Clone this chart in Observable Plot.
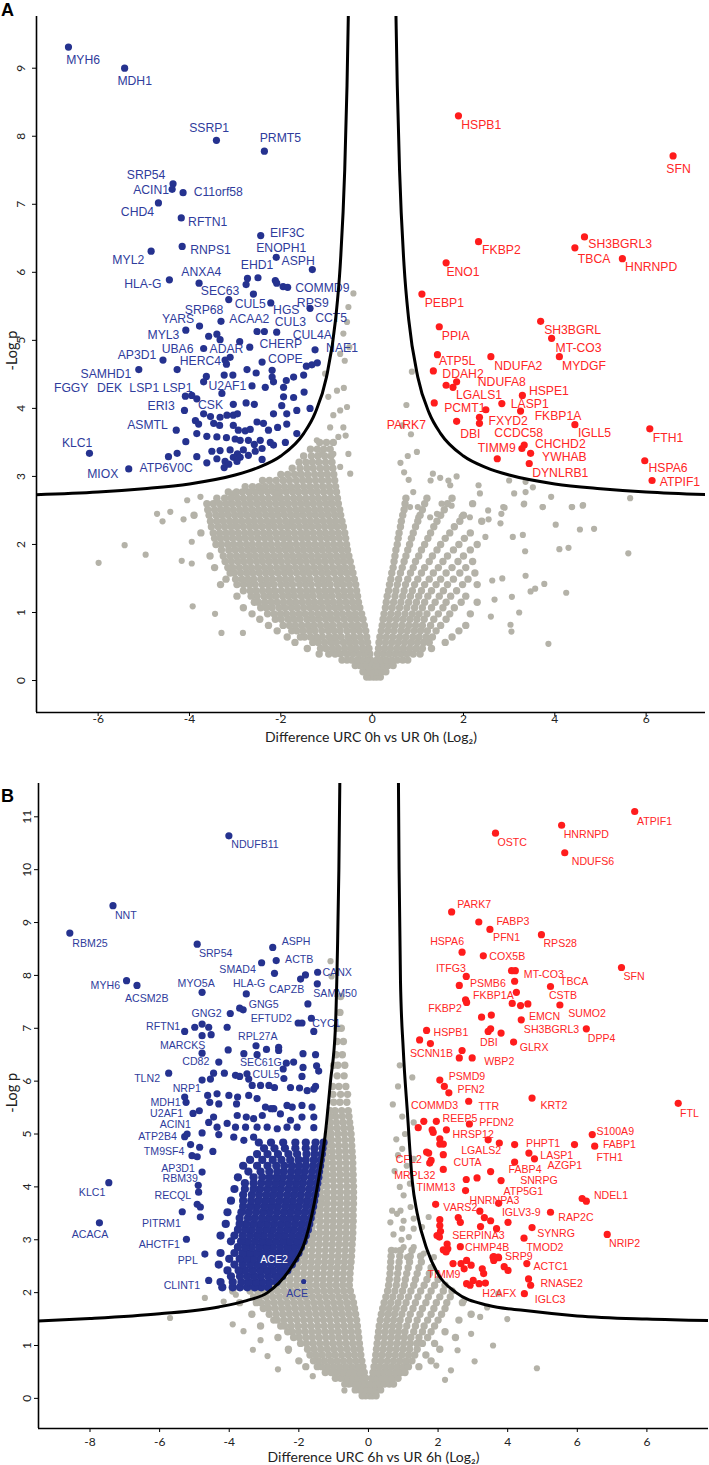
<!DOCTYPE html>
<html><head><meta charset="utf-8">
<script src="https://cdn.jsdelivr.net/npm/d3@7"></script>
<script src="https://cdn.jsdelivr.net/npm/@observablehq/plot@0.6"></script>
<style>body{margin:0;background:#fff}#chart{width:709px}#chart svg{display:block}</style>
</head><body><div id="chart"></div>
<script>
// ---------------- Panel A data ----------------
const xTicksA = [-6,-4,-2,0,2,4,6];
const xTickLabelsA = ["-6","-4","-2","0","2","4","6"];
const yTicksA = [0,1,2,3,4,5,6,7,8,9];
const curveA = [[0.5,10.6],[0.52,9.84],[0.55,8.75],[0.6,7.51],[0.7,6.09],[0.8,5.31],[1.0,4.46],[1.25,3.93],[1.5,3.63],[2.0,3.3],[2.5,3.13],[3.0,3.02],[4.0,2.89],[5.0,2.82],[6.0,2.77],[7.4,2.73]];
const blueA = [[-6.65,9.31],[-5.42,9.0],[-3.41,7.94],[-2.36,7.78],[-4.36,7.3],[-4.38,7.22],[-4.14,7.17],[-4.68,7.02],[-4.18,6.8],[-2.44,6.54],[-4.16,6.38],[-4.84,6.31],
[-2.1,6.22],[-1.31,6.04],[-4.44,5.89],[-3.79,5.84],[-2.73,5.91],[-2.5,5.92],[-2.76,5.82],[-2.12,5.88],[-2.09,5.84],[-1.95,5.79],[-1.85,5.78],[-2.6,5.68],[-3.14,5.6],[-2.22,5.55],[-1.36,5.47],[-3.31,5.28],[-3.78,5.21],[-4.08,5.15],[-3.58,5.06],[-3.4,5.09],[-3.33,5.01],[-2.9,4.98],[-2.52,5.13],[-2.36,5.13],[-2.09,5.12],[-2.68,4.9],[-3.69,4.88],[-3.11,4.75],[-3.22,4.71],[-3.19,4.65],[-1.25,4.86],[-4.58,4.71],[-5.11,4.57],[-4.27,4.57],[-2.74,4.57],[-2.54,4.52],[-2.41,4.68],[-2.19,4.56],[-2.19,4.46],[-1.44,4.62],[-1.32,4.64],[-1.2,4.67],[-1.5,4.49],[-3.63,4.47],[-3.69,4.39],[-3.24,4.49],[-3.05,4.49],[-2.63,4.33],[-2.34,4.31],[-2.16,4.39],[-1.88,4.41],[-1.72,4.46],[-1.94,4.31],[-3.29,4.22],[-4.09,4.18],[-3.95,4.19],[-3.84,4.14],[-2.76,4.08],[-2.58,4.06],[-3.04,4.06],[-1.94,4.17],[-1.72,4.16],[-1.49,4.24],[-1.98,4.04],[-2.16,3.92],[-1.87,3.92],[-1.65,3.97],[-1.36,4.0],[-4.11,3.97],[-3.87,3.82],[-3.69,3.92],[-3.54,3.88],[-3.33,3.87],[-3.18,3.9],[-3.04,3.9],[-2.95,3.92],[-3.8,3.77],[-3.47,3.78],[-3.34,3.75],[-3.04,3.75],[-2.93,3.68],[-2.78,3.67],[-2.67,3.69],[-2.52,3.8],[-2.38,3.78],[-2.27,3.68],[-2.07,3.72],[-1.87,3.77],[-4.29,3.68],[-4.08,3.51],[-3.84,3.63],[-3.62,3.59],[-3.4,3.58],[-3.19,3.57],[-3.0,3.55],[-2.89,3.53],[-2.71,3.53],[-2.58,3.47],[-2.45,3.53],[-2.23,3.5],[-1.9,3.5],[-1.65,3.63],[-3.51,3.37],[-3.33,3.38],[-3.11,3.39],[-2.95,3.33],[-2.82,3.39],[-2.56,3.37],[-2.41,3.41],[-2.16,3.46],[-4.46,3.29],[-4.27,3.34],[-3.84,3.29],[-3.4,3.26],[-3.22,3.22],[-3.04,3.28],[-2.89,3.28],[-2.71,3.31],[-2.41,3.25],[-3.62,3.2],[-3.24,3.13],[-3.14,3.18],[-2.96,3.22],[-6.19,3.34],[-5.33,3.11]];
const redA = [[1.89,8.3],[6.59,7.71],[2.33,6.45],[4.65,6.52],[4.44,6.36],[5.48,6.2],[1.62,6.14],[1.09,5.68],[3.69,5.28],[1.47,5.2],[3.93,5.03],[1.43,4.79],[2.6,4.76],[4.1,4.76],[1.34,4.55],[1.62,4.34],[1.77,4.31],[1.85,4.39],[3.29,4.19],[1.36,4.08],[2.84,4.07],[2.49,3.98],[3.25,3.96],[2.35,3.87],[2.35,3.78],[1.85,3.81],[4.44,3.76],[6.08,3.7],[3.33,3.46],[3.28,3.41],[3.47,3.34],[2.74,3.26],[3.44,3.19],[5.97,3.23],[6.13,2.94]];
// gray cloud, one row per -log p level: [y, x1, x2, ...]
const grayA_rows = [
[.05,.03,-.05,-.12,.1,.18],[.13,.06,-.03,-.11,-.2,.13,.21,.3],[.22,0,-.08,-.17,-.27,-.37,.08,.16,.25,.35,.46],
[.3,-.03,-.12,-.23,-.33,-.45,-.55,-.66,.1,.2,.31,.43,.55,.67,.78],
[.39,-.05,-.17,-.29,-.42,-.55,-.69,-.81,-.95,-1.16,.12,.24,.37,.5,.63,.76,.9,1.05],
[.47,-.07,-.2,-.34,-.46,-.6,-.74,-.87,-1.01,-1.13,-1.42,.14,.27,.4,.54,.68,.82,.96,1.1,1.3],
[.56,-.1,-.23,-.37,-.5,-.63,-.78,-.9,-1.04,-1.18,-1.3,-1.69,.15,.29,.43,.57,.71,.85,.99,1.13,1.25,1.6],
[.64,-.12,-.26,-.4,-.53,-.68,-.81,-.94,-1.09,-1.22,-1.35,-1.48,-1.57,-1.86,.17,.31,.45,.6,.74,.89,1.03,1.18,1.32,1.75],
[.73,-.14,-.28,-.41,-.55,-.7,-.83,-.96,-1.1,-1.25,-1.37,-1.51,-1.65,-1.76,-2.08,.2,.34,.48,.63,.77,.92,1.06,1.21,1.4,1.9],
[.81,-.17,-.31,-.44,-.58,-.71,-.86,-.99,-1.13,-1.27,-1.4,-1.54,-1.68,-1.81,-1.95,-2.27,.22,.36,.5,.65,.8,.95,1.1,1.28,1.5,2.05],
[.9,-.2,-.34,-.47,-.61,-.76,-.89,-1.02,-1.17,-1.3,-1.43,-1.58,-1.71,-1.84,-1.99,-2.12,-2.46,.24,.38,.53,.68,.83,.98,1.14,1.35,1.62],
[.98,-.23,-.37,-.51,-.65,-.78,-.92,-1.06,-1.19,-1.33,-1.47,-1.6,-1.74,-1.88,-2.01,-2.15,-2.29,-2.63,.26,.41,.56,.72,.88,1.03,1.2,1.45,1.7,2.15],
[1.07,-.27,-.4,-.54,-.69,-.81,-.95,-1.09,-1.23,-1.36,-1.5,-1.64,-1.77,-1.91,-2.04,-2.19,-2.32,-2.44,-2.82,.29,.44,.6,.76,.93,1.1,1.3,1.55,1.8],
[1.15,-.3,-.43,-.57,-.71,-.85,-.98,-1.12,-1.26,-1.39,-1.53,-1.67,-1.8,-1.94,-2.08,-2.21,-2.35,-2.49,-2.58,.31,.47,.63,.8,.97,1.15,1.38,1.62,1.95,2.3],
[1.24,-.32,-.46,-.6,-.73,-.88,-1.01,-1.14,-1.29,-1.42,-1.55,-1.7,-1.83,-1.96,-2.11,-2.24,-2.37,-2.52,-2.65,-2.96,.33,.5,.67,.84,1.02,1.22,1.47,1.72,2.05],
[1.32,-.34,-.48,-.62,-.76,-.9,-1.03,-1.17,-1.31,-1.44,-1.58,-1.72,-1.85,-1.99,-2.13,-2.26,-2.4,-2.54,-2.67,-2.82,.36,.52,.7,.88,1.08,1.3,1.56,1.85],
[1.41,-.36,-.5,-.64,-.77,-.92,-1.05,-1.18,-1.33,-1.46,-1.59,-1.74,-1.87,-2,-2.15,-2.28,-2.41,-2.56,-2.69,-2.82,-2.96,-3.32,.38,.55,.73,.93,1.15,1.4,1.65,1.98,2.3],
[1.49,-.39,-.53,-.67,-.8,-.95,-1.08,-1.21,-1.36,-1.49,-1.62,-1.77,-1.9,-2.03,-2.18,-2.31,-2.44,-2.59,-2.72,-2.85,-2.99,-3.2,.41,.58,.78,1,1.25,1.5,1.78,2.1],
[1.58,-.42,-.55,-.69,-.83,-.97,-1.1,-1.24,-1.38,-1.51,-1.65,-1.79,-1.92,-2.06,-2.2,-2.33,-2.47,-2.61,-2.74,-2.88,-3.02,-3.11,.43,.62,.84,1.08,1.34,1.62,1.92,2.25],
[1.66,-.45,-.59,-.72,-.86,-1,-1.13,-1.27,-1.41,-1.54,-1.68,-1.82,-1.95,-2.09,-2.23,-2.36,-2.5,-2.64,-2.77,-2.91,-3.05,-3.16,-3.45,.46,.66,.9,1.15,1.45,1.75,2.05],
[1.75,-.48,-.62,-.75,-.89,-1.03,-1.17,-1.3,-1.44,-1.58,-1.71,-1.85,-1.99,-2.12,-2.26,-2.4,-2.53,-2.67,-2.81,-2.94,-3.08,-3.22,.48,.7,.95,1.25,1.55,1.88,2.2],
[1.83,-.51,-.64,-.78,-.92,-1.05,-1.19,-1.33,-1.47,-1.6,-1.74,-1.87,-2.01,-2.15,-2.29,-2.42,-2.56,-2.69,-2.83,-2.97,-3.11,-3.26,-3.55,.5,.74,1.02,1.32,1.65,2],
[1.92,-.54,-.67,-.81,-.95,-1.09,-1.22,-1.36,-1.5,-1.63,-1.77,-1.9,-2.04,-2.18,-2.32,-2.45,-2.59,-2.72,-2.86,-3,-3.14,-3.3,.52,.78,1.08,1.42,1.78,2.15],
[2,-.56,-.7,-.84,-.98,-1.11,-1.25,-1.39,-1.52,-1.66,-1.8,-1.93,-2.07,-2.21,-2.34,-2.48,-2.62,-2.75,-2.89,-3.03,-3.16,-3.3,-3.42,.55,.82,1.15,1.5,1.9,2.3],
[2.09,-.58,-.72,-.86,-.99,-1.13,-1.27,-1.41,-1.54,-1.68,-1.82,-1.95,-2.09,-2.23,-2.36,-2.5,-2.64,-2.78,-2.91,-3.05,-3.19,-3.32,-3.45,.57,.86,1.22,1.6,2.02],
[2.17,-.6,-.74,-.88,-1.02,-1.15,-1.29,-1.43,-1.56,-1.7,-1.84,-1.97,-2.11,-2.25,-2.38,-2.52,-2.66,-2.79,-2.93,-3.07,-3.2,-3.34,-3.48,-3.75,.59,.9,1.28,1.7,2.15],
[2.26,-.63,-.77,-.9,-1.04,-1.18,-1.32,-1.45,-1.59,-1.73,-1.86,-2,-2.14,-2.27,-2.41,-2.55,-2.68,-2.82,-2.96,-3.09,-3.23,-3.37,-3.52,.62,.95,1.35,1.8],
[2.34,-.66,-.8,-.93,-1.07,-1.21,-1.35,-1.48,-1.62,-1.76,-1.89,-2.03,-2.17,-2.3,-2.44,-2.58,-2.71,-2.85,-2.99,-3.12,-3.26,-3.4,-3.54,.64,1,1.42,1.92,2.4],
[2.43,-.69,-.82,-.96,-1.1,-1.24,-1.37,-1.51,-1.65,-1.78,-1.92,-2.06,-2.19,-2.33,-2.47,-2.6,-2.74,-2.88,-3.01,-3.15,-3.29,-3.42,-3.57,-3.9,.67,1.05,1.5,2],
[2.51,-.71,-.85,-.99,-1.13,-1.26,-1.4,-1.54,-1.67,-1.81,-1.95,-2.08,-2.22,-2.36,-2.49,-2.63,-2.77,-2.9,-3.04,-3.18,-3.31,-3.45,-3.6,.7,1.1,1.58],
[2.6,-.74,-.88,-1.01,-1.15,-1.29,-1.43,-1.56,-1.7,-1.84,-1.97,-2.11,-2.25,-2.38,-2.52,-2.66,-2.79,-2.93,-3.07,-3.2,-3.34,-3.48,-3.62,.72,1.15,1.65,2.2],
[2.68,-.76,-.9,-1.04,-1.18,-1.31,-1.45,-1.59,-1.72,-1.86,-2,-2.13,-2.27,-2.41,-2.54,-2.68,-2.82,-2.95,-3.09,-3.23,-3.4,.74,1.2,1.75],
[2.77,-.78,-.92,-1.06,-1.2,-1.33,-1.47,-1.61,-1.74,-1.88,-2.02,-2.15,-2.29,-2.43,-2.56,-2.7,-2.84,-2.97,-3.15],
[2.85,-.8,-.94,-1.08,-1.22,-1.36,-1.5,-1.64,-1.78,-1.92,-2.06,-2.2,-2.34,-2.48,-2.62,-2.78],
[2.94,-.82,-.96,-1.1,-1.24,-1.38,-1.52,-1.66,-1.81,-1.95,-2.1,-2.25,-2.4],
[3.03,-.84,-.98,-1.12,-1.26,-1.41,-1.55,-1.7,-1.85,-2],
[3.12,-.86,-1,-1.14,-1.29,-1.43,-1.58,-1.75],[3.21,-.88,-1.02,-1.17,-1.31,-1.45,-1.6],[3.3,-.9,-1.04,-1.19,-1.33,-1.5],[3.4,-.92,-1.06,-1.2,-1.35],[3.5,-.85,-1,-1.15]];
const grayA_extra = [[-5.99,1.73],[-5.42,1.99],[-4.96,1.85],[-4.59,2.34],[-4.13,2.37],[-4.17,1.76],[-3.95,1.72],[-3.95,2.04],[-3.93,1.09],[-3.44,.98],[-3.3,.7],[-2.83,.7],[3.86,.54],[4.25,1.29],[5.61,1.87],[4.02,2.29],[4.1,1.93],[4.3,1.95],[4.38,2.55],[4.55,2.22],[4.86,2.23],[4.62,2.58],[3.74,2.55],[3.32,2.59],[3.35,1.9],[3.3,2.14],[3.08,2.11],[3.36,1.54],[3.47,1.31],[3.57,1.35],[3.77,1.42],[3.06,1.23],[3.03,.82],[3.05,.72],[3.22,1],[2.85,1.5],[2.63,1.47],[2.68,1.19],[2.6,.94],[2.83,2.45],[2.81,2.31],[2.9,2.54],[2.55,2.37],[2.48,2.11],
[.87,4.54],[.85,3.62],[.98,3.36],[.7,3.06],[.9,2.77],[1.28,2.94],[1.33,3.04],[1.49,2.98],[1.67,2.94],[1.71,2.87],[1.85,3],[1.52,2.6],[1.74,2.57],[1.96,2.41],[2.14,2.4],[2.33,2.87],[2.36,2.75],[2.54,2.5],[2.87,2.55],[3,2.94],[3.11,2.75],[3.33,2.6],[3.36,2.77],[3.36,2.92],[3.52,2.84],[3.73,2.55],[3.92,2.7],[4.37,2.55],[4.61,2.57],[5.65,2.68],[.83,2.55],[1,2.55],[1.01,2.4],[1.27,2.4],[1.42,2.45],[.62,3.2],[.78,3.3],[.66,3.75],[.75,4.05],[.8,2.95],
[-1.03,4.51],[-.96,4.17],[-.77,4.26],[-.85,3.9],[-.7,3.97],[-.92,3.72],[-.55,4.02],[-.63,3.72],[-.74,3.58],[-.52,3.33],[-.63,5.1],[-.55,5.27],[-.52,5.49],[-.41,5.69],[-1.21,3.53],[-1.1,3.33],[-.85,3.33],[-.99,3.04],[-.7,3.14],[-1.58,3.04],[-1.79,2.84],[-2.09,2.75],[-2.38,2.84],[-2.67,2.7],[-3.04,2.75],[-3.4,2.65],[-3.76,2.7],[-4.05,2.65],[-4.71,2.45],[-4.42,2.48],[-.48,3.04],[-.58,3.6],[-.62,4.3],[-.6,4.7],[-.7,4.8],[-.5,4.9]];
const labelsA_blue = [["MYH6",-6.33,9.12],["MDH1",-5.2,8.81],["SSRP1",-3.57,8.12],["PRMT5",-2.01,7.97],["SRP54",-4.95,7.43],["ACIN1",-4.84,7.21],["C11orf58",-3.37,7.18],["CHD4",-5.14,6.88],["RFTN1",-3.6,6.74],["EIF3C",-1.86,6.57],["ENOPH1",-1.99,6.35],["RNPS1",-3.54,6.32],["MYL2",-5.34,6.18],["ASPH",-1.62,6.17],["ANXA4",-3.74,6.0],["HLA-G",-5.02,5.83],["EHD1",-2.52,6.1],["SEC63",-3.33,5.72],["COMMD9",-1.09,5.77],["CUL5",-2.67,5.53],["RPS9",-1.3,5.55],["SRP68",-3.68,5.45],["HGS",-1.88,5.45],["CCT5",-.9,5.33],["YARS",-4.25,5.31],["ACAA2",-2.69,5.31],["CUL3",-1.79,5.27],["MYL3",-4.57,5.07],["CUL4A",-1.31,5.08],["AP3D1",-5.15,4.79],["UBA6",-4.26,4.87],["ADAR",-3.19,4.87],["CHERP",-2.0,4.95],["NAE1",-.66,4.89],["HERC4",-3.76,4.69],["COPE",-1.9,4.72],["SAMHD1",-5.83,4.5],["FGGY",-6.59,4.3],["DEK",-5.75,4.3],["LSP1",-4.99,4.3],["LSP1",-4.26,4.3],["U2AF1",-3.17,4.33],["ERI3",-4.62,4.03],["CSK",-3.54,4.05],["ASMTL",-4.92,3.76],["KLC1",-6.46,3.49],["MIOX",-5.9,3.03],["ATP6V0C",-4.51,3.12]];
const labelsA_red = [["HSPB1",2.39,8.16],["SFN",6.71,7.52],["FKBP2",2.83,6.32],["SH3BGRL3",5.43,6.42],["TBCA",4.86,6.2],["HNRNPD",6.11,6.07],["ENO1",1.99,6.0],["PEBP1",1.58,5.55],["SH3BGRL",4.39,5.15],["PPIA",1.83,5.06],["MT-CO3",4.52,4.89],["ATP5L",1.86,4.7],["NDUFA2",3.2,4.62],["MYDGF",4.64,4.62],["DDAH2",1.99,4.5],["NDUFA8",2.84,4.38],["HSPE1",3.87,4.26],["LGALS1",2.34,4.19],["PCMT1",2.03,4.0],["LASP1",3.45,4.07],["FKBP1A",4.07,3.89],["FXYD2",2.98,3.82],["PARK7",.75,3.75],["DBI",2.15,3.62],["IGLL5",4.87,3.64],["CCDC58",3.21,3.63],["FTH1",6.48,3.56],["CHCHD2",4.12,3.48],["TIMM9",2.73,3.42],["YWHAB",4.21,3.28],["DYNLRB1",4.12,3.05],["HSPA6",6.48,3.12],["ATPIF1",6.74,2.91]];

// ---------------- Panel B data ----------------
const xTicksB = [-8,-6,-4,-2,0,2,4,6,8];
const xTickLabelsB = ["-8","-6","-4","-2","0","2","4","6","6"];
const yTicksB = [0,1,2,3,4,5,6,7,8,9,10,11];
const curveB_left = [[0.82,11.8],[0.85,10],[0.89,8.5],[0.95,7],[1.09,6],[1.24,5],[1.47,4],[1.81,3],[2.2,2.5],[2.9,2],[3.5,1.85],[4.3,1.73],[6,1.6],[8,1.51],[9.6,1.46]];
const curveB_right = [[0.86,11.8],[0.88,10],[0.92,7.9],[1.0,6.6],[1.12,5.4],[1.26,4.1],[1.4,3.5],[1.69,2.8],[2.0,2.35],[2.52,2.0],[3.43,1.76],[4.5,1.66],[6,1.56],[8,1.5],[9.8,1.47]];
const blueB = [[-4.01,10.64],[-7.34,9.32],[-8.58,8.8],[-4.92,8.59],[-2.75,8.53],[-2.65,8.28],[-3.07,8.24],[-2.7,8.04],[-1.46,8.06],[-1.81,8.01],[-1.95,7.93],[-6.95,7.9],[-6.65,7.81],[-4.78,7.68],[-3.51,7.65],[-1.47,7.84],[-3.7,7.38],[-3.6,7.35],[-3.97,7.28],[-1.74,7.46],[-2.02,7.1],[-1.91,7.1],[-1.64,7.19],[-1.57,6.94],[-5.28,6.94],[-4.99,7.02],[-4.78,7.08],[-4.59,7.02],[-4.78,6.86],[-4.52,6.88],[-4.06,7.02],[-4.78,6.53],[-3.23,6.67],[-2.93,6.6],[-3.58,6.52],[-3.2,6.5],[-4.03,6.59],[-2.58,6.64],[-2.58,6.58],[-4.3,6.36],[-2.36,6.34],[-2.15,6.36],[-2.45,6.23],[-1.88,6.52],[-1.88,6.26],[-1.52,6.5],[-1.49,6.29],[-1.43,6.19],[-5.74,6.15],[-4.14,6.15],[-4.45,6.15],[-4.54,6.04],[-3.82,6.11],[-3.7,6.09],[-3.49,6.14],[-3.44,6.04],[-2.43,6.05],[-1.91,6.09],[-3.1,5.92],[-2.86,5.92],[-2.7,5.88],[-2.24,5.88],[-1.98,5.87],[-1.76,5.82],[-1.57,5.85],[-1.52,5.9],[-3.34,5.92],[-4.78,6.02],[-5.28,5.7],[-5.24,5.6],[-4.62,5.73],[-4.35,5.76],[-4.01,5.73],[-3.76,5.7],[-3.44,5.73],[-3.2,5.67],[-4.56,5.6],[-4.3,5.57],[-3.79,5.57],[-2.96,5.51],[-2.72,5.48],[-2.34,5.54],[-2.19,5.51],[-1.91,5.54],[-1.62,5.51],[-5.04,5.39],[-4.86,5.44],[-4.45,5.32],[-3.77,5.35],[-3.51,5.32],[-3.3,5.29],[-3.05,5.35],[-2.8,5.48],[-2.53,5.38],[-2.24,5.26],[-1.91,5.32],[-1.57,5.32],[-4.59,5.22],[-4.35,5.13],[-4.06,5.2],[-3.82,5.13],[-3.53,5.13],[-3.2,5.13],[-2.91,5.13],[-2.62,5.1],[-2.34,5.13],[-2.05,5.13],[-1.57,5.12],[-5.28,4.95],[-5.21,5.0],[-4.78,5.02],[-4.3,4.99],[-3.87,4.94],[-3.58,4.88],[-3.3,4.94],[-5.11,4.8],[-4.85,4.75],[-5.07,4.59],[-4.92,4.57],[-4.47,4.67],[-4.78,4.28],[-4.89,4.03],[-4.88,3.9],[-7.46,4.08],[-4.92,3.67],[-4.83,3.62],[-5.35,3.53],[-4.83,3.43],[-7.73,3.32],[-5.23,3.01],[-4.7,2.73],[-4.59,2.23]];
const blueB_small = [[-1.86,2.21]];
const blueB_rows = [
[2.1,-2.88,-3.08,-3.27,-3.48,-3.69,-3.9,-4.2],
[2.2,-2.64,-2.84,-3.05,-3.24,-3.44,-3.65,-3.9,-4.25],
[2.31,-2.48,-2.67,-2.88,-3.09,-3.28,-3.48,-3.69,-3.95],
[2.42,-2.33,-2.53,-2.74,-2.93,-3.12,-3.33,-3.54,-3.73,-4.05],
[2.53,-2.2,-2.41,-2.6,-2.8,-3.01,-3.2,-3.4,-3.61,-3.85,-4.3],
[2.64,-2.1,-2.3,-2.5,-2.71,-2.9,-3.1,-3.31,-3.5,-3.7,-4.0],
[2.75,-2.01,-2.21,-2.42,-2.61,-2.81,-3.02,-3.21,-3.41,-3.62,-3.85,-4.25],
[2.86,-1.94,-2.14,-2.33,-2.54,-2.75,-2.94,-3.14,-3.35,-3.54,-3.75],
[2.97,-1.86,-2.06,-2.27,-2.46,-2.66,-2.87,-3.06,-3.26,-3.47,-3.66,-3.95],
[3.08,-1.8,-2,-2.2,-2.41,-2.6,-2.8,-3.01,-3.2,-3.4,-3.61,-3.85,-4.25],
[3.19,-1.74,-1.94,-2.15,-2.34,-2.54,-2.75,-2.94,-3.14,-3.35,-3.54,-3.75],
[3.3,-1.7,-1.9,-2.1,-2.31,-2.5,-2.7,-2.91,-3.1,-3.3,-3.51,-3.7,-4.1],
[3.41,-1.66,-1.86,-2.07,-2.26,-2.46,-2.67,-2.86,-3.06,-3.27,-3.46,-3.7],
[3.52,-1.63,-1.83,-2.03,-2.24,-2.43,-2.63,-2.84,-3.03,-3.23,-3.44,-3.65,-4.05],
[3.63,-1.59,-1.79,-2,-2.19,-2.39,-2.6,-2.79,-2.99,-3.2,-3.39,-3.6],
[3.74,-1.56,-1.76,-1.96,-2.17,-2.36,-2.56,-2.77,-2.96,-3.16,-3.37,-3.6,-3.95],
[3.85,-1.53,-1.73,-1.94,-2.13,-2.33,-2.54,-2.73,-2.93,-3.14,-3.35,-3.6],
[3.96,-1.5,-1.7,-1.91,-2.1,-2.3,-2.51,-2.7,-2.9,-3.11,-3.3,-3.55,-3.85],
[4.07,-1.47,-1.67,-1.88,-2.07,-2.27,-2.48,-2.67,-2.87,-3.08,-3.3,-3.55],
[4.18,-1.44,-1.64,-1.85,-2.04,-2.24,-2.45,-2.64,-2.84,-3.05,-3.3,-3.75],
[4.29,-1.42,-1.62,-1.83,-2.02,-2.22,-2.43,-2.62,-2.85,-3.1,-3.45],
[4.4,-1.39,-1.59,-1.8,-2,-2.2,-2.42,-2.65,-2.9,-3.2,-3.6],
[4.51,-1.37,-1.57,-1.8,-2.01,-2.25,-2.5,-2.75,-3.05,-3.4],
[4.62,-1.34,-1.55,-1.78,-2.05,-2.3,-2.6,-2.9,-3.2],
[4.73,-1.32,-1.55,-1.8,-2.1,-2.4,-2.7,-3.0],
[4.84,-1.29,-1.52,-1.8,-2.1,-2.45,-2.8,-3.15]];
const redB = [[7.65,11.1],[5.55,10.84],[3.65,10.69],[5.64,10.32],[2.39,9.2],[3.17,9.01],[3.49,8.87],[4.97,8.77],[2.69,8.44],[3.3,8.37],[7.27,8.15],[2.81,7.98],[4.11,8.09],[4.22,8.09],[2.61,7.81],[4.2,7.89],[5.23,7.79],[4.25,7.68],[2.79,7.54],[2.82,7.49],[4.13,7.47],[4.37,7.43],[4.58,7.46],[5.5,7.44],[4.39,7.16],[3.25,7.21],[3.53,7.25],[6.26,6.99],[1.67,6.96],[3.44,6.94],[3.51,6.99],[3.81,6.91],[4.17,6.74],[1.47,6.78],[1.78,6.71],[2.69,6.58],[2.61,6.44],[2.98,6.44],[2.05,6.02],[2.18,5.9],[2.31,5.78],[4.7,5.68],[2.88,5.62],[8.9,5.58],[1.59,5.24],[1.95,5.24],[1.43,5.12],[1.83,5.08],[1.86,5.03],[2.24,5.08],[2.9,5.19],[6.43,4.99],[2.05,4.91],[2.05,4.81],[2.15,4.81],[3.44,4.89],[3.76,4.83],[4.2,4.8],[5.92,4.8],[6.5,4.77],[4.61,4.64],[4.77,4.53],[1.67,4.66],[1.73,4.64],[1.8,4.5],[1.76,4.45],[2.15,4.61],[4.2,4.47],[2.15,4.33],[3.51,4.29],[2.81,4.14],[3.12,4.17],[3.81,4.12],[2.79,3.93],[6.14,3.78],[6.26,3.73],[3.74,3.69],[1.93,3.67],[5.23,3.52],[3.2,3.54],[3.33,3.42],[3.51,3.36],[2.58,3.42],[2.64,3.33],[2.05,3.38],[2.05,3.27],[2.07,3.16],[1.97,3.08],[2.04,3.05],[3.22,3.25],[3.68,3.21],[4.01,3.33],[4.7,3.23],[4.47,3.03],[6.86,3.1],[2.64,2.87],[2.26,2.92],[2.28,2.83],[2.15,2.81],[3.58,2.67],[3.74,2.66],[2.23,2.77],[2.43,2.55],[2.66,2.55],[2.75,2.45],[2.95,2.52],[2.82,2.61],[3.27,2.45],[3.31,2.36],[3.6,2.68],[3.6,2.61],[3.73,2.67],[3.9,2.49],[4.01,2.42],[4.55,2.55],[4.6,2.26],[4.66,2.14],[2.82,2.17],[3.01,2.23],[3.18,2.17],[3.36,2.18],[2.92,2.14],[4.48,1.98]];
const grayB_rows = [
[.05,.04,-.08,-.18,.12,.22],[.16,0,-.12,-.25,-.38,.1,.22,.35],[.27,-.04,-.17,-.3,-.43,-.56,-.68,.08,.2,.33,.46,.6,.72],
[.38,-.08,-.22,-.36,-.51,-.65,-.8,-.95,.1,.24,.39,.54,.69,.85],
[.49,-.12,-.27,-.43,-.59,-.75,-.91,-1.07,-1.24,.13,.28,.44,.6,.77,.93,1.05],
[.6,-.16,-.32,-.49,-.66,-.83,-1,-1.17,-1.34,-1.47,-1.8,.16,.32,.49,.66,.83,1,1.15,1.45],
[.71,-.19,-.36,-.54,-.72,-.9,-1.08,-1.26,-1.43,-1.58,-2,.19,.36,.54,.72,.9,1.08,1.25,1.8],
[.82,-.22,-.4,-.58,-.77,-.96,-1.14,-1.33,-1.51,-1.68,.21,.39,.58,.77,.96,1.15,1.33,1.65],
[.93,-.24,-.42,-.61,-.8,-.99,-1.18,-1.37,-1.56,-1.75,-2.3,.23,.42,.61,.8,.99,1.18,1.4,2.05],
[1.04,-.26,-.45,-.64,-.83,-1.02,-1.21,-1.4,-1.59,-1.78,-1.95,.25,.44,.63,.82,1.01,1.2,1.39,1.55,1.9],
[1.15,-.28,-.47,-.66,-.85,-1.04,-1.23,-1.42,-1.61,-1.8,-1.99,-2.15,-2.6,.27,.46,.65,.84,1.03,1.22,1.45,1.7,2.5],
[1.26,-.3,-.49,-.68,-.87,-1.06,-1.25,-1.44,-1.63,-1.82,-2.01,-2.2,-2.32,.29,.48,.67,.86,1.05,1.3,1.55,1.8,2.2],
[1.37,-.32,-.51,-.7,-.89,-1.08,-1.27,-1.46,-1.65,-1.84,-2.03,-2.22,-2.41,-2.52,-3.1,.31,.5,.69,.88,1.1,1.35,1.6,1.9],
[1.48,-.34,-.53,-.72,-.91,-1.1,-1.29,-1.48,-1.67,-1.86,-2.05,-2.24,-2.43,-2.62,-2.72,.34,.53,.72,.91,1.15,1.4,1.7,2,2.6],
[1.59,-.37,-.56,-.75,-.94,-1.13,-1.32,-1.51,-1.7,-1.89,-2.08,-2.27,-2.46,-2.65,-2.85,-3.35,.37,.56,.75,.96,1.2,1.48,1.8,2.1,2.95],
[1.7,-.4,-.59,-.78,-.97,-1.16,-1.35,-1.54,-1.73,-1.92,-2.11,-2.3,-2.49,-2.68,-2.87,-3.02,.41,.6,.8,1.02,1.28,1.55,1.88,2.2],
[1.81,-.43,-.62,-.81,-1,-1.19,-1.38,-1.57,-1.76,-1.95,-2.14,-2.33,-2.52,-2.71,-2.9,-3.09,-3.22,-3.7,.45,.64,.85,1.08,1.35,1.65,1.95,2.25,2.7],
[1.92,-.47,-.66,-.85,-1.04,-1.23,-1.42,-1.61,-1.8,-1.99,-2.18,-2.37,-2.56,-2.75,-2.94,-3.13,-3.3,.5,.7,.92,1.15,1.42,1.72,2.05,2.35],
[2.03,-.52,-.71,-.9,-1.09,-1.28,-1.47,-1.66,-1.85,-2.04,-2.23,-2.42,-2.61,-2.8,-2.99,-3.18,-3.4,-3.9,.55,.76,.98,1.22,1.5,1.8,2.15,2.4],
[2.14,-.55,-.74,-.93,-1.12,-1.31,-1.5,-1.69,-1.88,-2.07,-2.26,-2.45,-2.64,-2.78,.58,.8,1.03,1.3,1.6,1.9,2.2],
[2.25,-.54,-.73,-.92,-1.11,-1.3,-1.49,-1.68,-1.87,-2.06,-2.25,-2.44,.6,.82,1.06,1.35,1.68,2],
[2.36,-.53,-.72,-.91,-1.1,-1.29,-1.48,-1.67,-1.86,-2.05,-2.24,.62,.84,1.1,1.4,1.75],
[2.47,-.52,-.71,-.9,-1.09,-1.28,-1.47,-1.66,-1.85,-2.04,-2.15,.63,.86,1.14,1.45,1.8],
[2.58,-.5,-.69,-.88,-1.07,-1.26,-1.45,-1.64,-1.83,-2.02,.64,.88,1.18,1.52],
[2.69,-.49,-.68,-.87,-1.06,-1.25,-1.44,-1.63,-1.82,-1.97,.65,.9,1.2,1.5],
[2.8,-.48,-.67,-.86,-1.05,-1.24,-1.43,-1.62,-1.81,-1.9,.66,.92,1.25],
[2.91,-.47,-.66,-.85,-1.04,-1.23,-1.42,-1.61,-1.8],[3.02,-.46,-.65,-.84,-1.03,-1.22,-1.41,-1.6,-1.75],
[3.13,-.45,-.64,-.83,-1.02,-1.21,-1.4,-1.58,-1.7],[3.24,-.45,-.64,-.83,-1.02,-1.21,-1.4,-1.62],
[3.35,-.44,-.63,-.82,-1.01,-1.2,-1.39,-1.58],[3.46,-.44,-.63,-.82,-1.01,-1.2,-1.39,-1.55],
[3.57,-.44,-.63,-.82,-1.01,-1.2,-1.38,-1.52],[3.68,-.43,-.62,-.81,-1,-1.19,-1.36,-1.5],
[3.79,-.43,-.62,-.81,-1,-1.19,-1.35,-1.47],[3.9,-.43,-.62,-.81,-1,-1.19,-1.38],
[4.01,-.43,-.62,-.81,-1,-1.19,-1.36],[4.12,-.44,-.63,-.82,-1.01,-1.2,-1.36],
[4.23,-.44,-.63,-.82,-1.01,-1.2,-1.34],[4.34,-.45,-.64,-.83,-1.02,-1.21,-1.33],
[4.45,-.45,-.64,-.83,-1.02,-1.2,-1.3],[4.56,-.46,-.65,-.84,-1.03,-1.2,-1.28],
[4.67,-.47,-.66,-.85,-1.04,-1.22],[4.78,-.48,-.67,-.86,-1.05,-1.22],[4.89,-.49,-.68,-.87,-1.06,-1.2],
[5,-.5,-.69,-.88,-1.07,-1.18],[5.11,-.52,-.71,-.9,-1.09],[5.22,-.54,-.73,-.92,-1.1],[5.33,-.56,-.75,-.94,-1.1],
[5.44,-.58,-.77,-.96,-1.1],[5.6,-.62,-.82,-1],[5.75,-.6,-.8,-1.02],[5.9,-.65,-.85,-1.03],[6.1,-.7,-.9],
[6.3,-.68,-.88,-1],[6.5,-.75,-.93],[6.75,-.72,-.9],[7,-.78,-.9],[7.3,-.82],[7.6,-.8]];
const grayB_extra = [[-1.09,8.27],[-1.06,7.98],[-5.7,1.52],[-3.59,1.27],[-3.32,.92],[-4.16,1.83],[-3.81,1.96],[-1.6,.42],[-.69,.15],[-4.7,1.9],[-3.9,1.4],[-2.9,.8],[-2.6,.55],[-2.3,.9],[-3.1,1.1],
[.7,5.56],[.97,5.33],[1.3,5.22],[.97,4.72],[1.3,4.53],[1.19,4.06],[1.01,3.84],[.68,3.55],[.92,3.55],[1.21,3.62],[.82,3.49],[.63,3.33],[1.01,3.36],[1.3,3.4],[1.73,3.43],[1.54,3.24],[.97,3.21],[1.3,3.21],[1.16,3.05],[.78,2.8],[1.01,2.86],[1.3,2.86],[1.59,2.74],[1.88,2.67],[1.11,2.67],[1.26,6.07],[.75,4.3],[.8,4.9],[.9,6.3],[.85,5.9],[.72,3.1],[.9,4],[1.1,4.4],[.95,3],[.85,4.6],[1.05,5],
[3.58,1],[3.99,1.5],[4.84,.57],[2.56,.91],[2.37,.53],[2.95,1.22],[3.21,1.54],[3.41,1.72],[3.73,1.98],[2.75,1.85],[3.05,.7],[2.2,.35],[1.95,.62]];
const labelsB_blue = [["NDUFB11",-3.26,10.47],["NNT",-6.97,9.14],["RBM25",-8.0,8.61],["SRP54",-4.39,8.42],["ASPH",-2.08,8.64],["ACTB",-1.99,8.3],["SMAD4",-3.76,8.11],["CANX",-.9,8.05],["MYH6",-7.56,7.81],["ACSM2B",-6.37,7.56],["MYO5A",-4.95,7.84],["HLA-G",-3.43,7.84],["CAPZB",-2.35,7.74],["SAMM50",-.96,7.65],["GNG5",-3.01,7.44],["GNG2",-4.65,7.27],["EFTUD2",-2.79,7.19],["CYC1",-1.21,7.08],["RFTN1",-5.9,7.03],["MARCKS",-5.34,6.67],["RPL27A",-3.18,6.84],["CD82",-4.96,6.37],["SEC61G",-3.09,6.36],["CUL5",-2.94,6.12],["TLN2",-6.36,6.04],["NRP1",-5.22,5.85],["MDH1",-5.83,5.6],["U2AF1",-5.8,5.38],["ACIN1",-5.55,5.17],["ATP2B4",-6.06,4.96],["TM9SF4",-5.87,4.66],["AP3D1",-5.47,4.34],["RBM39",-5.41,4.16],["KLC1",-7.94,3.89],["RECQL",-5.62,3.84],["PITRM1",-5.95,3.3],["ACACA",-8.0,3.1],["AHCTF1",-6.01,2.91],["PPL",-5.19,2.61],["CLINT1",-5.36,2.14],["ACE",-2.05,1.99]];
const labelsB_white = [["ACE2",-2.71,2.63]];
const labelsB_red = [["ATPIF1",8.22,10.91],["HNRNPD",6.26,10.66],["OSTC",4.13,10.52],["NDUFS6",6.45,10.15],["PARK7",3.04,9.34],["FABP3",4.15,9.02],["PFN1",3.97,8.72],["RPS28",5.51,8.61],["HSPA6",2.26,8.64],["COX5B",3.99,8.36],["SFN",7.63,7.98],["ITFG3",2.37,8.13],["MT-CO3",5.04,8.01],["PSMB6",3.43,7.84],["TBCA",5.91,7.89],["CSTB",5.59,7.62],["FKBP1A",3.59,7.62],["FKBP2",2.2,7.38],["SUMO2",6.28,7.28],["EMCN",5.06,7.22],["SH3BGRL3",5.26,6.98],["DPP4",6.7,6.8],["HSPB1",2.37,6.91],["DBI",3.46,6.72],["GLRX",4.76,6.64],["SCNN1B",1.81,6.52],["WBP2",3.76,6.37],["PSMD9",2.83,6.09],["PFN2",2.95,5.84],["KRT2",5.33,5.53],["TTR",3.46,5.52],["FTL",9.22,5.39],["COMMD3",1.9,5.53],["REEP5",2.63,5.29],["PFDN2",3.68,5.21],["HRSP12",3.01,4.98],["S100A9",7.09,5.05],["PHPT1",5.02,4.82],["FABP1",7.21,4.8],["FTH1",6.93,4.56],["LGALS2",3.24,4.68],["LASP1",5.41,4.59],["CFL2",1.16,4.52],["CUTA",2.85,4.46],["AZGP1",5.64,4.4],["MRPL32",1.33,4.22],["FABP4",4.5,4.33],["SNRPG",4.9,4.12],["TIMM13",1.94,3.99],["ATP5G1",4.45,3.92],["NDEL1",6.97,3.84],["HNRNPA3",3.62,3.74],["VARS2",2.64,3.6],["IGLV3-9",4.39,3.51],["RAP2C",5.96,3.41],["SYNRG",5.39,3.11],["NRIP2",7.36,2.92],["SERPINA3",3.16,3.07],["CHMP4B",3.41,2.85],["TMOD2",5.07,2.86],["SRP9",4.32,2.68],["TIMM9",2.17,2.34],["ACTC1",5.24,2.5],["RNASE2",5.55,2.17],["H2AFX",3.76,1.98],["IGLC3",5.22,1.87]];

// ---------------- drawing ----------------
const GRAY = "#b4b2a8", BLUE = "#25328f", BLUE_T = "#2f3c9c", RED = "#ff1c1c", RED_T = "#ff2626";
const LABEL_FONT = "Liberation Sans, Arial, sans-serif";
const AXIS_FONT = "Lato, 'Open Sans', sans-serif";
const rowsToPoints = rows => rows.flatMap(([y, ...xs]) => xs.map(x => [x, y]));
const px = d => d[0], py = d => d[1];

function volcano(o) {
  const [x0] = o.xDomain, [y0] = o.yDomain;
  const lbl = (data, fill) => Plot.text(data, {x: d => d[1], y: d => d[2], text: d => d[0], fill, fontSize: o.labelSize, fontFamily: LABEL_FONT});
  return Plot.plot({
    width: 709, height: o.height,
    marginLeft: o.ml, marginRight: o.mr, marginTop: o.mt, marginBottom: o.mb,
    x: {domain: o.xDomain}, y: {domain: o.yDomain},
    style: {background: "#fff", fontFamily: AXIS_FONT, overflow: "visible"},
    marks: [
      Plot.dot(o.grayDense, {x: px, y: py, r: 3.7, fill: GRAY}),
      Plot.dot(o.gray, {x: px, y: py, r: 3.1, fill: GRAY}),
      Plot.dot(o.blueDense || [], {x: px, y: py, r: 4.1, fill: BLUE}),
      Plot.dot(o.blue, {x: px, y: py, r: 3.6, fill: BLUE}),
      Plot.dot(o.blueSmall || [], {x: px, y: py, r: 2.6, fill: BLUE}),
      Plot.dot(o.red, {x: px, y: py, r: 3.6, fill: RED}),
      lbl(o.labelsBlue, BLUE_T),
      lbl(o.labelsWhite || [], "#fff"),
      lbl(o.labelsRed, RED_T),
      Plot.line(o.curveL.map(([a, b]) => [-a, b]).reverse(), {x: px, y: py, stroke: "#000", strokeWidth: 3, curve: "monotone-x", clip: true}),
      Plot.line(o.curveR, {x: px, y: py, stroke: "#000", strokeWidth: 3, curve: "monotone-x", clip: true}),
      Plot.ruleX([x0], {stroke: "#000", strokeWidth: 1.6}),
      Plot.ruleY([y0], {stroke: "#000", strokeWidth: 1.6}),
      Plot.axisX({ticks: o.xTicks, tickSize: 4, tickFormat: () => "", label: null}),
      Plot.axisY({ticks: o.yTicks, tickSize: 4, tickFormat: () => "", label: null}),
      Plot.text(o.xTicks, {x: d => d, frameAnchor: "bottom", dy: o.xTickDy, lineAnchor: "middle", text: d => o.xTickLabels[o.xTicks.indexOf(d)], fontSize: 12, fill: "#222"}),
      Plot.text(o.yTicks, {y: d => d, frameAnchor: "left", dx: o.yTickDx, rotate: -90, textAnchor: "middle", lineAnchor: "middle", text: d => String(d), fontSize: 12, fill: "#222"}),
      Plot.text([o.xTitle], {frameAnchor: "bottom", dy: o.xTitleDy, lineAnchor: "middle", text: d => d, fontSize: 14, fill: "#222"}),
      Plot.text([{t: "-Log p", y: o.yTitleY}], {y: d => d.y, text: d => d.t, frameAnchor: "left", dx: o.yTitleDx, rotate: -90, textAnchor: "middle", lineAnchor: "middle", fontSize: 14.5, fill: "#222"}),
      Plot.text([o.letter], {frameAnchor: "top-left", dx: o.letterDx, dy: o.letterDy, text: d => d, textAnchor: "middle", lineAnchor: "middle", fontSize: 18, fontWeight: "bold", fontFamily: LABEL_FONT, fill: "#000"})
    ]
  });
}

const chart = document.getElementById("chart");
chart.appendChild(volcano({
  height: 745, ml: 36, mr: 4, mt: 16, mb: 33,
  xDomain: [-7.35, 7.3], yDomain: [-0.47, 9.76],
  xTicks: xTicksA, xTickLabels: xTickLabelsA, yTicks: yTicksA,
  grayDense: rowsToPoints(grayA_rows), gray: grayA_extra, blue: blueA, red: redA,
  labelsBlue: labelsA_blue, labelsRed: labelsA_red, labelSize: 12.2,
  curveL: curveA, curveR: curveA,
  xTickDy: 7, xTitleDy: 25, xTitle: "Difference URC 0h vs UR 0h (Log\u2082)",
  yTickDx: -15, yTitleDx: -24, yTitleY: 4.85,
  letter: "A", letterDx: -29, letterDy: -6
}));
chart.appendChild(volcano({
  height: 720, ml: 38, mr: 1, mt: 38, mb: 37,
  xDomain: [-9.48, 9.77], yDomain: [-0.57, 11.63],
  xTicks: xTicksB, xTickLabels: xTickLabelsB, yTicks: yTicksB,
  grayDense: rowsToPoints(grayB_rows), gray: grayB_extra, blueDense: rowsToPoints(blueB_rows), blue: blueB, blueSmall: blueB_small, red: redB,
  labelsBlue: labelsB_blue, labelsWhite: labelsB_white, labelsRed: labelsB_red, labelSize: 10.6,
  curveL: curveB_left, curveR: curveB_right,
  xTickDy: 14, xTitleDy: 29, xTitle: "Difference URC 6h vs UR 6h (Log\u2082)",
  yTickDx: -11, yTitleDx: -26, yTitleY: 5.78,
  letter: "B", letterDx: -31, letterDy: 13
}));
</script></body></html>
